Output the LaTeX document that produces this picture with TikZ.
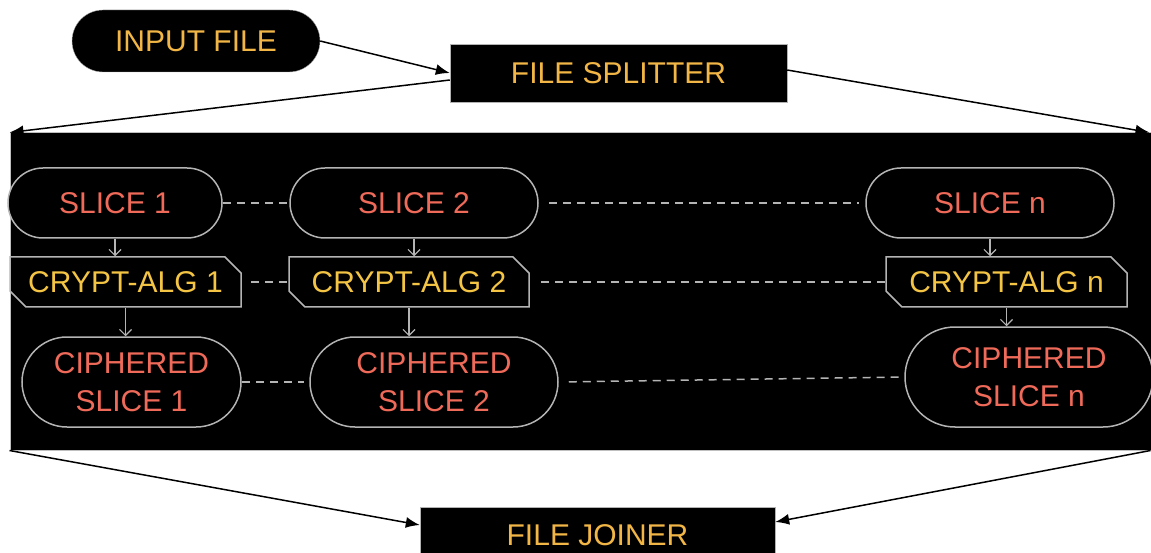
\documentclass[tikz,border=0pt]{standalone}
\usepackage{fontspec}
\setmainfont{Liberation Sans}
\usepackage{tikz}
\usetikzlibrary{positioning,arrows.meta,calc,shapes.misc}

\definecolor{titletext}{HTML}{F2B646}
\definecolor{slicetext}{HTML}{F06A5A}
\definecolor{algtext}{HTML}{F4C545}
\definecolor{edge}{HTML}{B4B4B4}

\begin{document}
\begin{tikzpicture}[x=1pt,y=-1pt,
    font=\fontsize{30}{38}\selectfont,
    title/.style={draw=gray!60,fill=black,text=titletext,inner sep=0pt},
    slice/.style={draw=edge,line width=1.5pt,fill=black,rounded corners=35pt,minimum height=70pt,inner sep=0pt,text=slicetext},
    cipher/.style={draw=edge,line width=1.5pt,fill=black,rounded corners=45pt,minimum height=90pt,inner sep=0pt,align=center,text=slicetext},
    crypt/.style={chamfered rectangle,chamfered rectangle corners={north east,south west},chamfered rectangle xsep=8pt,chamfered rectangle ysep=8pt,draw=edge,line width=1.5pt,fill=black,minimum height=50pt,inner sep=0pt,text=algtext},
    arr/.style={line width=1.5pt,-{Latex[length=14pt,width=11pt]}},
    flow/.style={draw=edge,line width=1.2pt,-{Straight Barb[length=6pt,width=12pt]}},
    link/.style={draw=edge,line width=1.5pt,dash pattern=on 8pt off 6pt}
  ]
    \useasboundingbox (0,0) rectangle (1151,553);

    % black band holding the slices
    \node[fill=black,draw=gray!50,line width=1pt,minimum width=1143pt,minimum height=317pt,inner sep=0pt] (panel) at (581.5,291.5) {};

    \node[title,rounded corners=31pt,minimum width=248pt,minimum height=62pt] (input) at (196,41) {INPUT FILE};
    \node[title,minimum width=337pt,minimum height=58pt] (split) at (618.5,73) {FILE SPLITTER};
    \node[title,minimum width=355pt,minimum height=56pt] (join) at (597.5,535) {FILE JOINER};

    \draw[arr] (input.east) -- (split.west);
    \draw[arr] ([yshift=-7pt]split.west) -- (panel.north west);
    \draw[arr] ([yshift=3pt]split.east) -- ([xshift=-4pt]panel.north east);
    \draw[arr] (panel.south west) -- ([yshift=10pt]join.west);
    \draw[arr] ([xshift=-3pt]panel.south east) -- ([yshift=13pt]join.east);

    % slices
    \node[slice,minimum width=214pt] (s1) at (115,203) {SLICE 1};
    \node[slice,minimum width=248pt] (s2) at (414,203) {SLICE 2};
    \node[slice,minimum width=248pt] (sn) at (990,203) {SLICE n};

    \node[crypt,minimum width=231pt] (k1) at (125.5,282) {CRYPT-ALG 1};
    \node[crypt,minimum width=240pt] (k2) at (409,282) {CRYPT-ALG 2};
    \node[crypt,minimum width=241pt] (kn) at (1006.5,282) {CRYPT-ALG n};

    \node[cipher,minimum width=219pt] (c1) at (131.5,382) {CIPHERED\\SLICE 1};
    \node[cipher,minimum width=248pt] (c2) at (434,382) {CIPHERED\\SLICE 2};
    \node[cipher,minimum width=248pt,minimum height=100pt,rounded corners=50pt] (cn) at (1029,377) {CIPHERED\\SLICE n};

    \draw[flow] (s1.south) -- (s1.south |- k1.north);
    \draw[flow] (s2.south) -- (s2.south |- k2.north);
    \draw[flow] (sn.south) -- (sn.south |- kn.north);
    \draw[flow] (k1.south) -- (k1.south |- c1.north);
    \draw[flow] (k2.south) -- (k2.south |- c2.north);
    \draw[flow] (kn.south) -- (kn.south |- cn.north);

    \draw[link] (s1.east) -- (s2.west);
    \draw[link,shorten <=10pt,shorten >=6pt] (s2.east) -- (sn.west);
    \draw[link,shorten <=9pt] (k1.east) -- (k2.west);
    \draw[link,shorten <=11pt] (k2.east) -- (kn.west);
    \draw[link,shorten >=5pt] (c1.east) -- (c2.west);
    \draw[link,shorten <=10pt,shorten >=5pt] (c2.east) -- (cn.west);
\end{tikzpicture}
\end{document}
